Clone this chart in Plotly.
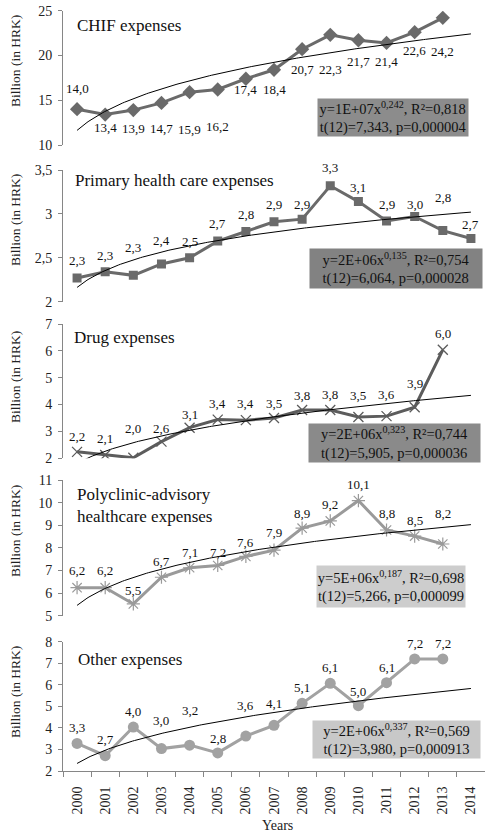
import numpy as np
import plotly.graph_objects as go

years = list(range(2000, 2015))

titles = ["CHIF expenses", "Primary health care expenses", "Drug expenses",
          "Polyclinic-advisory<br>healthcare expenses", "Other expenses"]

chif = [14.0, 13.4, 13.9, 14.7, 15.9, 16.2, 17.4, 18.4, 20.7, 22.3, 21.7, 21.4, 22.6, 24.2]
primary = [2.27, 2.34, 2.30, 2.43, 2.50, 2.69, 2.80, 2.91, 2.94, 3.32, 3.14, 2.92, 2.97, 2.81, 2.72]
drug = [2.24, 2.12, 2.02, 2.62, 3.14, 3.44, 3.42, 3.50, 3.80, 3.80, 3.54, 3.57, 3.90, 6.04]
polyclinic = [6.24, 6.24, 5.52, 6.70, 7.12, 7.22, 7.62, 7.90, 8.87, 9.19, 10.09, 8.79, 8.52, 8.17]
other = [3.28, 2.71, 4.04, 3.04, 3.20, 2.84, 3.62, 4.12, 5.14, 6.07, 5.03, 6.10, 7.20, 7.20]

fit_texts = [
    "y=1E+07x<sup>0,242</sup>, R²=0,818<br>t(12)=7,343, p=0,000004",
    "y=2E+06x<sup>0,135</sup>, R²=0,754<br>t(12)=6,064, p=0,000028",
    "y=2E+06x<sup>0,323</sup>, R²=0,744<br>t(12)=5,905, p=0,000036",
    "y=5E+06x<sup>0,187</sup>, R²=0,698<br>t(12)=5,266, p=0,000099",
    "y=2E+06x<sup>0,337</sup>, R²=0,569<br>t(12)=3,980, p=0,000913",
]

y_ranges = [[10, 25], [2, 3.5], [2, 7], [5, 11], [2, 8]]
y_dticks = [5, 0.5, 1, 1, 1]

series = [chif, primary, drug, polyclinic, other]

# ---- styling / layout (pixels) ----
W, H = 485, 833
L = 63
plot_w = W - L
dom_px = [(10.7, 145), (170, 301.7), (324, 458.3), (480, 615.7), (641.7, 771)]
label_dy = [
    [-20.7, 13.3, 18.3, 25.3, 37.7, 37.3, 10.7, 19.3, 20.7, 35, 21.7, 19, 18.3, 33.3],
    [-17.3, -16.7, -27.7, -23.3, -16.7, -17.3, -16.7, -17.3, -15, -18.3, -14.3, -16.7, -11.7, -33, -14],
    [-15.7, -16.7, -29.3, -13.3, -13.3, -16, -16.7, -14.3, -14.3, -15, -21.7, -21.7, -24, -16],
    [-16.7, -16.7, -13.3, -15.7, -15.7, -13.3, -14.3, -17.3, -15, -16, -15.7, -16.7, -15.7, -30.7],
    [-16, -16.3, -16, -28, -35, -14, -30.7, -21.7, -16, -16, -14, -15.3, -15.7, -15.7],
]
line_colors = ["#6a6a6a", "#6a6a6a", "#5c5c5c", "#9a9a9a", "#a2a2a2"]
markers = [
    dict(symbol="diamond", size=11),
    dict(symbol="square", size=9),
    dict(symbol="x-thin-open", size=10, line=dict(width=1.3)),
    dict(symbol="asterisk-open", size=11, line=dict(width=1.2)),
    dict(symbol="circle", size=11),
]
box_px = [(318, 468, 99, 136), (310, 482, 249, 288), (309, 480, 424, 462),
          (317, 465, 566, 607), (313, 480, 721, 758)]
box_colors = ["#8c8c8c", "#828282", "#8a8a8a", "#cdcdcd", "#c8c8c8"]
title_px = [(75, 25), (73, 180), (72, 338), (75, 505), (76, 659)]
ytitle_py = [61, 220, 377, 531, 692]

FONT = "Liberation Serif"
AX = "#868686"


def px_x(p):
    return (p - L) / plot_w


def px_y(p):
    return 1 - p / H


fig = go.Figure()
annotations = []

for i, vals in enumerate(series):
    n = i + 1
    xs = years[:len(vals)]
    xa = "x" if n == 1 else f"x{n}"
    ya = "y" if n == 1 else f"y{n}"
    fig.add_trace(go.Scatter(
        x=xs, y=vals, mode="lines+markers", xaxis=xa, yaxis=ya,
        line=dict(color=line_colors[i], width=3),
        marker=dict(color=line_colors[i], **markers[i]),
        hoverinfo="skip"))
    # power trend line (least squares in log-log space, x = 1..n)
    t = np.arange(1, len(vals) + 1)
    b, ln_a = np.polyfit(np.log(t), np.log(np.array(vals)), 1)
    tt = np.linspace(1, len(years), 200)
    fig.add_trace(go.Scatter(
        x=years[0] + tt - 1, y=np.exp(ln_a) * tt ** b, mode="lines",
        xaxis=xa, yaxis=ya, line=dict(color="black", width=1), hoverinfo="skip"))

    for j, v in enumerate(vals):
        annotations.append(dict(
            x=xs[j], y=v, xref=xa, yref=ya, text=f"{v:.1f}".replace(".", ","),
            showarrow=False, yshift=-label_dy[i][j], xanchor="center", yanchor="middle",
            font=dict(family=FONT, size=13, color="#111")))

    x0, x1, y0, y1 = box_px[i]
    annotations.append(dict(
        x=px_x((x0 + x1) / 2), y=px_y((y0 + y1) / 2), xref="paper", yref="paper",
        xanchor="center", yanchor="middle",
        text=fit_texts[i], showarrow=False, bgcolor=box_colors[i],
        width=x1 - x0, height=y1 - y0, borderpad=0, align="center",
        font=dict(family=FONT, size=14.5, color="#111")))

    tx, ty = title_px[i]
    annotations.append(dict(
        x=px_x(tx), y=px_y(ty), xref="paper", yref="paper", xanchor="left",
        yanchor="middle", text=titles[i], showarrow=False, align="left",
        font=dict(family=FONT, size=17, color="#111")))

    annotations.append(dict(
        x=px_x(15), y=px_y(ytitle_py[i]), xref="paper", yref="paper",
        xanchor="center", yanchor="middle",
        text="Billion (in HRK)", textangle=-90, showarrow=False,
        font=dict(family=FONT, size=13.5, color="#222")))

    top, bot = dom_px[i]
    fig.update_layout(**{
        ("yaxis" if n == 1 else f"yaxis{n}"): dict(
            domain=[px_y(bot), px_y(top)], range=y_ranges[i], dtick=y_dticks[i],
            anchor=xa, showline=True, linecolor=AX, linewidth=1, ticks="outside",
            ticklen=4, tickcolor=AX, showgrid=False, zeroline=False,
            tickfont=dict(family=FONT, size=14, color="#222"), ticklabelstandoff=3),
    })
    xaxis_cfg = dict(domain=[0, 1], range=[1999.5, 2014.5], anchor=ya,
                     showgrid=False, zeroline=False)
    if n < 5:
        xaxis_cfg.update(visible=False)
    else:
        xaxis_cfg.update(
            showline=True, linecolor=AX, linewidth=1, tickmode="array",
            tickvals=years, ticktext=[str(y) for y in years], tickangle=-90,
            ticks="", tickfont=dict(family=FONT, size=14, color="#222"),
            ticklabelstandoff=9,
            minor=dict(tickmode="array", tickvals=[y - 0.5 for y in years] + [2014.5],
                       ticks="outside", ticklen=5, tickcolor=AX, showgrid=False))
    fig.update_layout(**{("xaxis" if n == 1 else f"xaxis{n}"): xaxis_cfg})

annotations.append(dict(
    x=px_x(277), y=px_y(825), xref="paper", yref="paper", text="Years",
    xanchor="center", yanchor="middle",
    showarrow=False, font=dict(family=FONT, size=14, color="#222")))

fig.update_layout(
    width=W, height=H, margin=dict(l=L, r=0, t=0, b=0, autoexpand=False),
    plot_bgcolor="white", paper_bgcolor="white", showlegend=False,
    separators=",.", annotations=annotations, font=dict(family=FONT))

fig.write_html("out.html", config={"displayModeBar": False},
               post_script="document.body.style.margin='0px';")
